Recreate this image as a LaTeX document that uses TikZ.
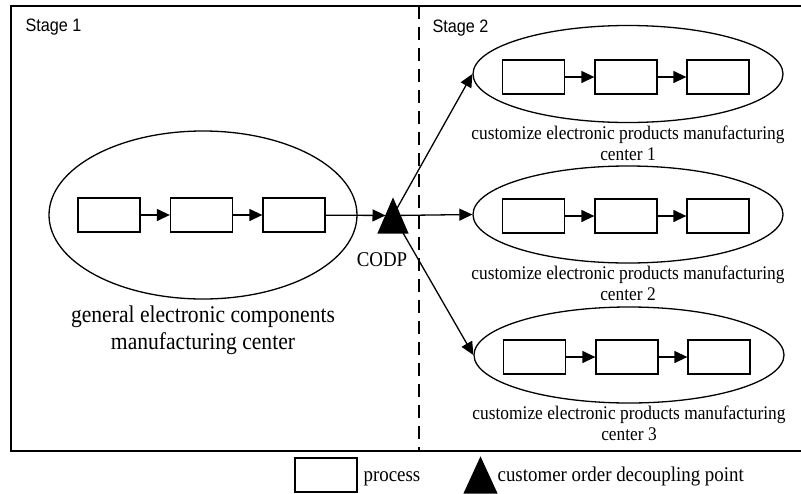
\documentclass[tikz,border=0pt]{standalone}
\usepackage{fontspec}
\setmainfont{Liberation Serif}[FakeStretch=0.9]
\setsansfont{Liberation Sans}[FakeStretch=0.9]
\usepackage{tikz}
\usetikzlibrary{shapes.geometric,arrows.meta,positioning}

\begin{document}
\begin{tikzpicture}[x=1pt,y=-1pt,line width=1.3pt,
  proc/.style={draw,rectangle,minimum width=62pt,minimum height=34pt,inner sep=0},
  mfg/.style={draw,ellipse,inner sep=0,minimum width=310pt,minimum height=97pt},
  decouple/.style={rectangle,inner sep=0,minimum width=30pt,minimum height=35pt},
  flow/.style={-{Triangle[length=13pt,width=12pt]}},
  stagelabel/.style={anchor=base west,inner sep=0,font=\sffamily\fontsize{18}{20}\selectfont},
  mfglabel/.style={align=center,inner sep=0,font=\fontsize{19.3}{20.7}\selectfont},
  keylabel/.style={anchor=base west,inner sep=0,font=\fontsize{21}{24}\selectfont}]
  \useasboundingbox (0,0) rectangle (801,493);

  \draw (11,6) rectangle (803,451);
  \draw[line width=2.8pt,dash pattern=on 13pt off 8pt] (419,6) -- (419,451);
  \node[stagelabel] (stageone) at (25,31) {Stage 1};
  \node[stagelabel] (stagetwo) at (432,32) {Stage 2};

  \node[draw,ellipse,inner sep=0,minimum width=308pt,minimum height=168pt] (general) at (203,215) {};
  \node[proc] (g1) at (109,215) {};  \node[proc] (g2) at (201.5,215) {};  \node[proc] (g3) at (294,215) {};
  \node[below=5.5pt of general,align=center,inner sep=0,font=\fontsize{24}{27.5}\selectfont] (generallabel) {general electronic components\\manufacturing center};

  \node[decouple] (codp) at (393,215.5) {};
  \node[anchor=base,inner sep=0,font=\fontsize{21}{24}\selectfont] (codplabel) at (382,266) {CODP};

  \node[mfg] (c1) at (628,74) {};
  \node[proc] (c1a) at (533.5,77) {};  \node[proc] (c1b) at (626,77) {};  \node[proc] (c1c) at (718,77) {};
  \node[mfglabel,below=2pt of c1] (c1label) {customize electronic products manufacturing\\center 1};

  \node[mfg] (c2) at (628,214.5) {};
  \node[proc] (c2a) at (533.5,216) {};  \node[proc] (c2b) at (626,216) {};  \node[proc] (c2c) at (718,216) {};
  \node[mfglabel,below=2pt of c2] (c2label) {customize electronic products manufacturing\\center 2};

  \node[mfg,minimum height=96pt] (c3) at (629,355) {};
  \node[proc] (c3a) at (534.5,357) {};  \node[proc] (c3b) at (627,357) {};  \node[proc] (c3c) at (719,357) {};
  \node[mfglabel,below=2pt of c3] (c3label) {customize electronic products manufacturing\\center 3};

  \draw[flow] (g1) -- (g2);  \draw[flow] (g2) -- (g3);  \draw[flow,shorten >=7.5pt] (g3) -- (codp.center);
  \draw[flow] (codp.center) -- (c1.west);  \draw[flow] (codp.center) -- (c2.west);  \draw[flow] (codp.center) -- (c3.west);
  \fill (codp.north) -- (codp.south east) -- (codp.south west) -- cycle;
  \draw[flow] (c1a) -- (c1b);  \draw[flow] (c1b) -- (c1c);
  \draw[flow] (c2a) -- (c2b);  \draw[flow] (c2b) -- (c2c);
  \draw[flow] (c3a) -- (c3b);  \draw[flow] (c3b) -- (c3c);

  \node[proc] (keybox) at (326,475) {};
  \node[keylabel] (keyproc) at (363,481.5) {process};
  \node[decouple,minimum width=33pt,minimum height=36pt] (keytri) at (480.5,475) {};
  \fill (keytri.north) -- (keytri.south east) -- (keytri.south west) -- cycle;
  \node[keylabel] (keycodp) at (497,481.5) {customer order decoupling point};
\end{tikzpicture}
\end{document}
